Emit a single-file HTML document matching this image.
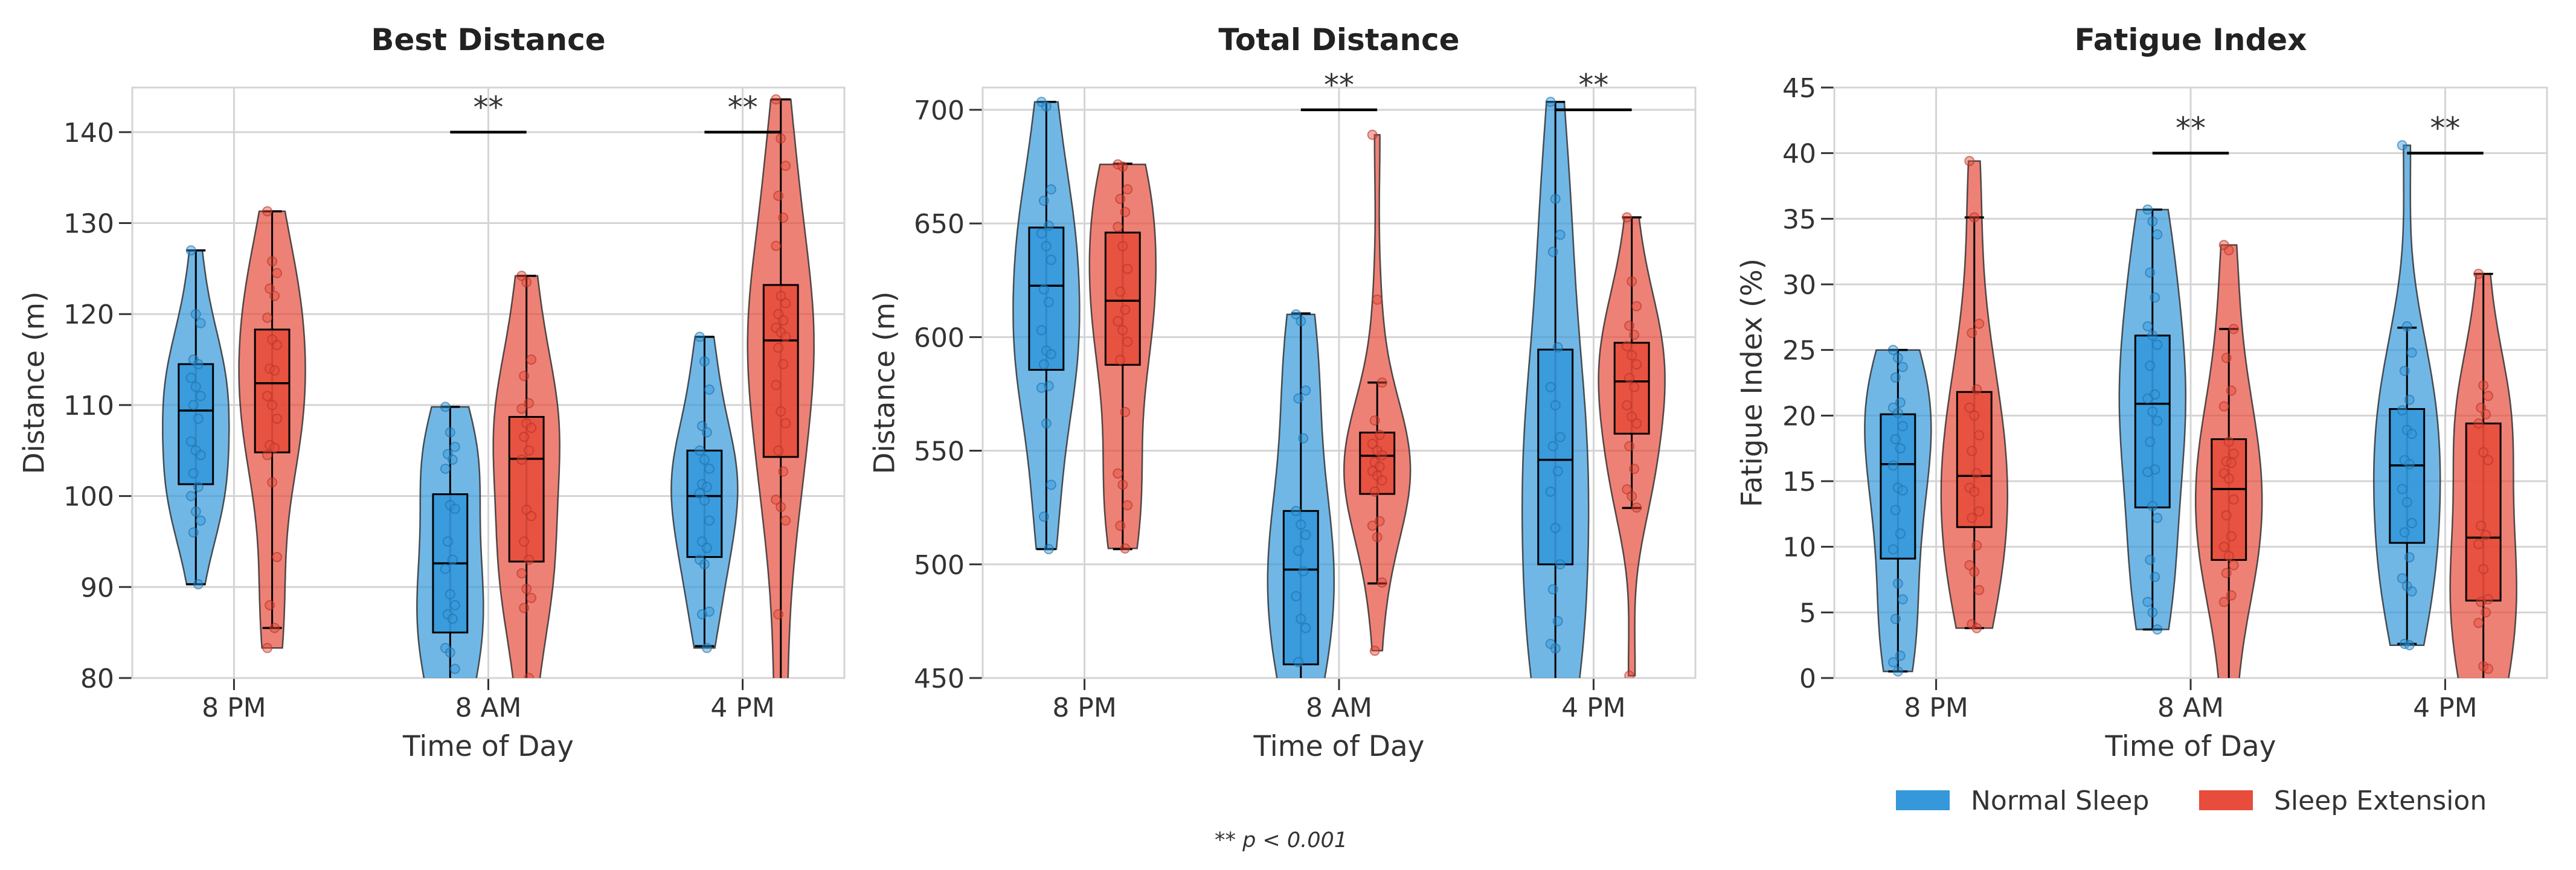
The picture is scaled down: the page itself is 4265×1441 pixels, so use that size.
<!DOCTYPE html>
<html><head><meta charset="utf-8"><title>Sleep extension violin plots</title>
<style>
html,body{margin:0;padding:0;background:#fff;}
svg{display:block;font-family:"DejaVu Sans","Liberation Sans",sans-serif;}
</style></head>
<body>
<svg id="chart" width="4265" height="1441" viewBox="0 0 4265 1441" xmlns="http://www.w3.org/2000/svg">
<rect x="0" y="0" width="4265" height="1441" fill="#fff"/>
</svg>
<script>
// ---------- data ----------
const categories = ["8 PM", "8 AM", "4 PM"];
const seriesNames = ["Normal Sleep", "Sleep Extension"];
const panelTitles = ["Best Distance", "Total Distance", "Fatigue Index"];
const yLabels = ["Distance (m)", "Distance (m)", "Fatigue Index (%)"];
const yTicks1 = [80, 90, 100, 110, 120, 130, 140];
const yTicks2 = [450, 500, 550, 600, 650, 700];
const yTicks3 = [0, 5, 10, 15, 20, 25, 30, 35, 40, 45];
const yRange1 = [80, 144.9];
const yRange2 = [450, 709.8];
const yRange3 = [0, 45];
const sigLevel1 = [null, 140, 140];
const sigLevel2 = [null, 700, 700];
const sigLevel3 = [null, 40, 40];

// Best Distance points [normal, extension] per time
const best_normal_8pm = [127,120,119,115,114.5,113,112,111,110,108.5,106,105,104.5,102.5,101,100,98.3,97.3,96,90.3];
const best_ext_8pm = [131.3,125.8,124.5,122.8,122,119.6,117.2,116.6,114,113.8,111,110,108.5,105.6,105.3,104.5,101.5,93.3,88,85.5,83.3];
const best_normal_8am = [109.8,107,105.4,104.6,104,103,99,98.6,95,93,92,89.2,88,87,86.5,83.3,82.8,81,79,76,72];
const best_ext_8am = [124.2,123.5,115,113.2,110.2,109.6,108,107.5,106.5,105,104,98.5,97.8,95,93,91.5,89.8,88.8,87.7,80,76];
const best_normal_4pm = [117.5,114.8,111.7,107.7,107,105,104,103,101.3,101,100.3,99.5,97.3,95,94.3,93,92.5,87.3,87,83.3];
const best_ext_4pm = [143.6,139.3,136.3,133,130.6,127.5,122,121.2,120,119.3,118.5,118,117.5,116.3,114.5,112.2,109.3,108,105,102.7,99.6,98.8,97.3,87,78,72];
// box stats [q1, median, q3, whiskerLow, whiskerHigh]
const best_box_normal = [[101.3,109.4,114.5,90.3,127],[85,92.6,100.2,72,109.8],[93.3,100,105,83.5,117.5]];
const best_box_ext = [[104.8,112.4,118.3,85.5,131.3],[92.8,104.1,108.7,76,124.2],[104.3,117.1,123.2,72,143.6]];

// Total Distance
const total_normal_8pm = [703.5,701.5,665,660,649,645.6,640,634,621,615.4,603,594,592.5,588,578.5,577.7,562,535,521,506.7];
const total_ext_8pm = [676,675,665,660.8,655,648.5,640,630,620,612,607,603,598,590,567,540,535,526,517,507];
const total_normal_8am = [610,607,576.5,573,555.5,523.5,517.5,513,506,497,486,476,472,457,445,440];
const total_ext_8am = [689,616.5,580,563.3,557,553,550,548,545,543,541,539,537,532,519,517,512,492,462];
const total_normal_4pm = [703.5,660.8,645,637.5,595.5,578,570,556,552,541,532,516,500,489,475,465,463,440,430];
const total_ext_4pm = [652.7,624.5,613.6,605,601,596,592,588,582,578,570,565,562,552,542,533,530,525,451];
const total_box_normal = [[585.6,622.6,648.2,506.7,703.5],[456,497.7,523.5,430,610.4],[500,546,594.5,430,703.5]];
const total_box_ext = [[587.8,616,646,506.7,676.3],[531,547.8,558,491.6,580],[557.5,580.5,597.5,524.8,652.7]];

// Fatigue Index
const fat_normal_8pm = [25,24.4,23.7,22.9,21,20.6,20.2,19.2,18.2,17.5,16.2,14.5,14.3,12.8,11,9.8,7.2,6,4.5,1.7,1.2,0.5];
const fat_ext_8pm = [39.4,35.1,27,26.3,22,20.6,20,18.5,17.3,15.6,14.5,14.2,12.7,12.2,10.1,8.6,8.1,6.7,4.1,3.8];
const fat_normal_8am = [35.7,34.8,33.8,30.9,29,26.8,26.1,25.4,23.8,21.6,21.3,20.3,19.6,18,15.9,15.7,13.1,12.2,9,7.7,5.8,5,3.7];
const fat_ext_8am = [33,32.6,26.6,24.4,21.9,20.7,18,17.1,16.5,16.4,15.6,15.2,13.6,12.4,10.8,10,9.3,8.6,8,6.3,5.8,-1,-3];
const fat_normal_4pm = [40.6,26.8,24.8,23.4,21.2,20.4,18.9,18.6,16.6,16.3,14.4,13.4,11.8,11.1,9.2,7.6,7,6.6,2.6,2.5];
const fat_ext_4pm = [30.8,22.3,21.5,20.6,20.1,19.4,17.2,16.6,11.6,10.9,10.2,8.3,6,5.8,5,4.2,0.9,0.7,-2,-4];
const fat_box_normal = [[9.1,16.3,20.1,0.5,25],[13,20.9,26.1,3.7,35.7],[10.3,16.2,20.5,2.6,26.7]];
const fat_box_ext = [[11.5,15.4,21.8,3.8,35.1],[9,14.4,18.2,-3,26.6],[5.9,10.7,19.4,-4,30.8]];

// ---------- layout ----------
const NS = "http://www.w3.org/2000/svg";
const svg = document.getElementById("chart");
const colors = ["#3498db", "#e74c3c"];
const edgeColors = ["#1f6fa8", "#b0362a"];
const TOP = 145, BOTTOM = 1123;
const panels = [
  {left:219, right:1398, range:yRange1, ticks:yTicks1, sig:sigLevel1, ylabX:57,
   pts:[[best_normal_8pm,best_normal_8am,best_normal_4pm],[best_ext_8pm,best_ext_8am,best_ext_4pm]],
   box:[best_box_normal,best_box_ext]},
  {left:1627, right:2807, range:yRange2, ticks:yTicks2, sig:sigLevel2, ylabX:1465,
   pts:[[total_normal_8pm,total_normal_8am,total_normal_4pm],[total_ext_8pm,total_ext_8am,total_ext_4pm]],
   box:[total_box_normal,total_box_ext]},
  {left:3037, right:4217, range:yRange3, ticks:yTicks3, sig:sigLevel3, ylabX:2901,
   pts:[[fat_normal_8pm,fat_normal_8am,fat_normal_4pm],[fat_ext_8pm,fat_ext_8am,fat_ext_4pm]],
   box:[fat_box_normal,fat_box_ext]}
];

function mk(tag, attrs, parent){
  const e = document.createElementNS(NS, tag);
  for (const k in attrs) e.setAttribute(k, attrs[k]);
  (parent||svg).appendChild(e);
  return e;
}
function kde(data, y){
  const n = data.length;
  const mean = data.reduce((a,b)=>a+b,0)/n;
  const sd = Math.sqrt(data.reduce((a,b)=>a+(b-mean)*(b-mean),0)/(n-1));
  const bw = sd*Math.pow(n,-0.2);
  let s = 0;
  for (const d of data){ const z=(y-d)/bw; s += Math.exp(-0.5*z*z); }
  return s;
}

panels.forEach((p, pi) => {
  const W = p.right - p.left;
  const xs = c => p.left + (c + 0.4) / 2.8 * W;
  const ys = v => BOTTOM - (v - p.range[0]) / (p.range[1] - p.range[0]) * (BOTTOM - TOP);
  const unit = W / 2.8;
  const g = mk("g", {});
  
  

  const clipId = "clip" + pi;
  const cp = mk("clipPath", {id: clipId}, g);
  mk("rect", {x:p.left, y:TOP, width:W, height:BOTTOM-TOP}, cp);

  // grid
  p.ticks.forEach(t => {
    const y = ys(t);
    const l = mk("line", {x1:p.left, x2:p.right, y1:y, y2:y, stroke:"#d4d4d4", "stroke-width":3}, g);
    
    
    const tk = mk("line", {x1:p.left-22, x2:p.left, y1:y, y2:y, stroke:"#333", "stroke-width":3}, g);
    
    
    const tl = mk("text", {x:p.left-30, y:y+16, "text-anchor":"end", "font-size":44, fill:"#333"}, g);
    tl.textContent = t;
    
    
  });
  categories.forEach((c, ci) => {
    const x = xs(ci);
    const l = mk("line", {x1:x, x2:x, y1:TOP, y2:BOTTOM, stroke:"#d4d4d4", "stroke-width":3}, g);
    
    
    const tk = mk("line", {x1:x, x2:x, y1:BOTTOM, y2:BOTTOM+20, stroke:"#333", "stroke-width":3}, g);
    
    
    const tl = mk("text", {x:x, y:1187, "text-anchor":"middle", "font-size":44, fill:"#333"}, g);
    tl.textContent = c;
    
    
  });
  const frame = mk("rect", {x:p.left, y:TOP, width:W, height:BOTTOM-TOP, fill:"none", stroke:"#d4d4d4", "stroke-width":3}, g);
  
  

  const plotG = mk("g", {"clip-path":"url(#"+clipId+")"}, g);
  
  

  [0,1].forEach(si => {
    categories.forEach((c, ci) => {
      const data = p.pts[si][ci];
      const cx = xs(ci) + (si === 0 ? -0.15 : 0.15) * unit;
      const lo = Math.min(...data), hi = Math.max(...data);
      const N = 80; const dens = [];
      for (let k=0;k<=N;k++){ const v = lo + (hi-lo)*k/N; dens.push([v, kde(data, v)]); }
      const mx = Math.max(...dens.map(d=>d[1]));
      const hw = 55;
      let d = "";
      dens.forEach((q,k) => { d += (k?"L":"M") + (cx + q[1]/mx*hw).toFixed(1) + "," + ys(q[0]).toFixed(1); });
      for (let k=dens.length-1;k>=0;k--){ const q=dens[k]; d += "L" + (cx - q[1]/mx*hw).toFixed(1) + "," + ys(q[0]).toFixed(1); }
      d += "Z";
      const vio = mk("path", {d:d, fill:colors[si], "fill-opacity":0.7, stroke:"#333", "stroke-opacity":0.85, "stroke-width":2.5}, plotG);
      
      

      const b = p.box[si][ci];
      const bw = 0.135 * unit, cap = 32;
      const wl = mk("line", {x1:cx, x2:cx, y1:ys(b[3]), y2:ys(b[4]), stroke:"#000", "stroke-width":3}, plotG);
      
      
      [b[3], b[4]].forEach(v => {
        const cl = mk("line", {x1:cx-cap/2, x2:cx+cap/2, y1:ys(v), y2:ys(v), stroke:"#000", "stroke-width":3.5}, plotG);
        
        
      });
      const br = mk("rect", {x:cx-bw/2, y:ys(b[2]), width:bw, height:ys(b[0])-ys(b[2]), fill:colors[si], "fill-opacity":0.9, stroke:"#000", "stroke-width":3}, plotG);
      
      
      const ml = mk("line", {x1:cx-bw/2, x2:cx+bw/2, y1:ys(b[1]), y2:ys(b[1]), stroke:"#000", "stroke-width":3.5}, plotG);
      
      

      data.forEach((v, k) => {
        const jx = ((k * 7) % 5 - 2) * 4;
        const pt = mk("circle", {cx:cx+jx, cy:ys(v), r:7.5, fill:colors[si], "fill-opacity":0.45, stroke:edgeColors[si], "stroke-opacity":0.6, "stroke-width":2}, plotG);
        
        
      });
    });
  });

  // significance
  p.sig.forEach((lv, ci) => {
    if (lv === null) return;
    const y = ys(lv);
    const x1 = xs(ci) - 0.15*unit, x2 = xs(ci) + 0.15*unit;
    const sl = mk("line", {x1:x1, x2:x2, y1:y, y2:y, stroke:"#000", "stroke-width":4.5}, g);
    
    
    const st = mk("text", {x:xs(ci), y:y-24, "text-anchor":"middle", "font-size":50, fill:"#333"}, g);
    st.textContent = "**";
    
    
  });

  const tt = mk("text", {x:(p.left+p.right)/2, y:83, "text-anchor":"middle", "font-size":50, "font-weight":"bold", fill:"#222"}, g);
  tt.textContent = panelTitles[pi];
  
  
  const xl = mk("text", {x:(p.left+p.right)/2, y:1252, "text-anchor":"middle", "font-size":47, fill:"#333"}, g);
  xl.textContent = "Time of Day";
  
  
  const yc = (TOP+BOTTOM)/2;
  const yl = mk("text", {x:p.ylabX, y:yc, "text-anchor":"middle", "dominant-baseline":"central", "font-size":47, fill:"#333", transform:"rotate(-90 "+p.ylabX+" "+yc+")"}, g);
  yl.textContent = yLabels[pi];
  
  
});

// legend
const lg = mk("g", {});


const legendX = [3139, 3641];
seriesNames.forEach((nm, si) => {
  const r = mk("rect", {x:legendX[si], y:1309, width:89, height:33, fill:colors[si]}, lg);
  
  
  const t = mk("text", {x:legendX[si]+124, y:1341, "font-size":44, fill:"#333"}, lg);
  t.textContent = nm;
  
  
});

const fn = mk("text", {x:2121, y:1403, "text-anchor":"middle", "font-size":35, "font-style":"italic", fill:"#333"});
fn.textContent = "** p < 0.001";


</script>
</body></html>
